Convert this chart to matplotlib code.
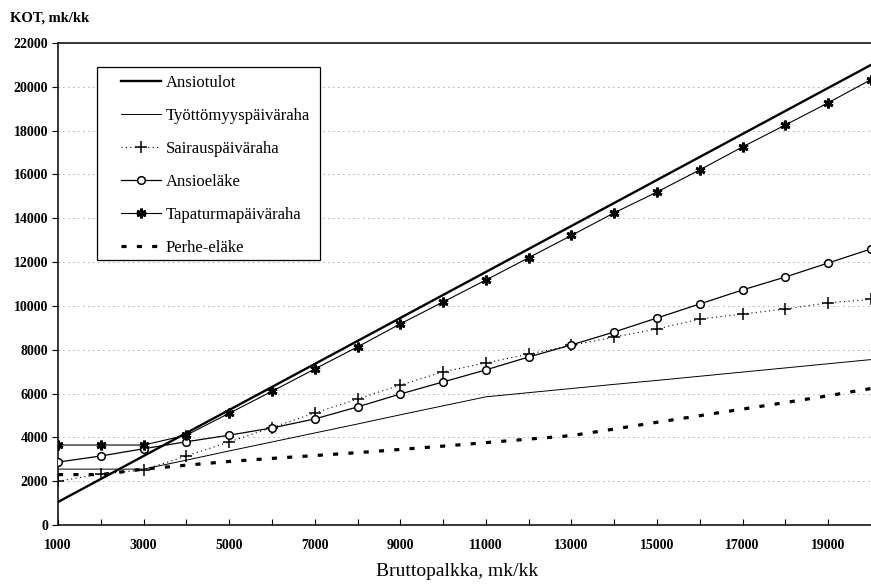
import matplotlib
matplotlib.use("Agg")
import matplotlib.pyplot as plt
from matplotlib.patches import Rectangle

plt.rcParams['font.family'] = ['Liberation Serif', 'DejaVu Serif']

brutto = [1000, 2000, 3000, 4000, 5000, 6000, 7000, 8000, 9000, 10000,
          11000, 12000, 13000, 14000, 15000, 16000, 17000, 18000, 19000, 20000]

ansiotulot = [1050, 2100, 3150, 4200, 5250, 6300, 7350, 8400, 9450, 10500,
              11550, 12600, 13650, 14700, 15750, 16800, 17850, 18900, 19950, 21000]
tyottomyys = [2550, 2550, 2550, 2960, 3380, 3790, 4200, 4610, 5030, 5440,
              5850, 6040, 6230, 6420, 6600, 6790, 6980, 7170, 7360, 7550]
sairaus = [2000, 2320, 2520, 3150, 3790, 4450, 5110, 5750, 6390, 6990,
           7400, 7800, 8200, 8580, 8950, 9400, 9630, 9860, 10140, 10300]
ansioelake = [2870, 3150, 3480, 3800, 4100, 4430, 4840, 5390, 5980, 6530,
              7080, 7670, 8220, 8810, 9450, 10090, 10730, 11320, 11960, 12600]
tapaturma = [3650, 3650, 3650, 4100, 5100, 6100, 7120, 8130, 9180, 10180,
             11180, 12200, 13220, 14250, 15200, 16210, 17260, 18260, 19270, 20330]
perhe = [2300, 2300, 2550, 2730, 2900, 3040, 3170, 3300, 3450, 3600,
         3760, 3920, 4080, 4380, 4690, 4990, 5290, 5590, 5900, 6230]

labels = ["Ansiotulot", "Työttömyyspäiväraha", "Sairauspäiväraha",
          "Ansioeläke", "Tapaturmapäiväraha", "Perhe-eläke"]

y_ticks = list(range(0, 22001, 2000))
x_label_ticks = [1000, 3000, 5000, 7000, 9000, 11000, 13000, 15000, 17000, 19000]
x_minor_ticks = list(range(1000, 20001, 1000))

W, H = 871, 585
fig = plt.figure(figsize=(W / 100, H / 100), dpi=100)
ax = fig.add_axes([58 / W, 1 - 525 / H, 1 - 58 / W, (525 - 43) / H])

for y in y_ticks[1:-1]:
    ax.axhline(y, color='#555555', lw=0.6, ls=(0, (1, 5)), zorder=0)

ax.plot(brutto, ansiotulot, color='black', lw=1.7, label=labels[0], zorder=5)
ax.plot(brutto, tyottomyys, color='black', lw=0.7, label=labels[1], zorder=4)
ax.plot(brutto, sairaus, color='black', lw=0.8, ls=(0, (1, 3)), marker='+',
        ms=8, mew=1.1, label=labels[2], zorder=4)
ax.plot(brutto, ansioelake, color='black', lw=0.9, marker='o', ms=5.5,
        mfc='white', mec='black', mew=1.1, label=labels[3], zorder=4)
ax.plot(brutto, tapaturma, color='black', lw=0.8, marker=(6, 2, 0), ms=7,
        mew=2.0, label=labels[4], zorder=4)
ax.plot(brutto, perhe, color='black', lw=2.3, ls=(0, (1.6, 3.2)),
        label=labels[5], zorder=3)

ax.set_xlim(1000, 19907)
ax.set_ylim(0, 22000)

ax.set_yticks(y_ticks)
ax.set_yticklabels([str(v) for v in y_ticks], fontsize=10, fontweight='bold')
ax.tick_params(axis='y', direction='out', length=4, width=0.8, pad=3)

ax.set_xticks(x_minor_ticks)
ax.set_xticklabels([str(v) if v in x_label_ticks else '' for v in x_minor_ticks],
                   fontsize=10, fontweight='bold')
ax.tick_params(axis='x', direction='in', length=4, width=0.8, pad=10)

for s in ['left', 'bottom', 'top']:
    ax.spines[s].set_linewidth(1.1)
    ax.spines[s].set_color('black')
ax.spines['right'].set_visible(False)

# legend box
box = Rectangle((97 / W, 1 - 260 / H), (320 - 97) / W, (260 - 67) / H,
                transform=fig.transFigure, facecolor='white', edgecolor='black',
                lw=0.9, zorder=6)
ax.add_patch(box)
box.set_clip_on(False)

leg = ax.legend(loc='upper left', bbox_to_anchor=(121 / W, 1 - 75 / H),
                bbox_transform=fig.transFigure, borderaxespad=0, borderpad=0,
                fontsize=12, frameon=False, numpoints=1,
                handlelength=2.4, labelspacing=1.02, handletextpad=0.3)
leg.set_zorder(7)

fig.text(10 / W, 1 - 18 / H, "KOT, mk/kk", fontsize=10.5, fontweight='bold',
         va='center', ha='left')
fig.text(457 / W, 1 - 572 / H, "Bruttopalkka, mk/kk", fontsize=14,
         va='center', ha='center')

fig.savefig("out.png", dpi=100)
